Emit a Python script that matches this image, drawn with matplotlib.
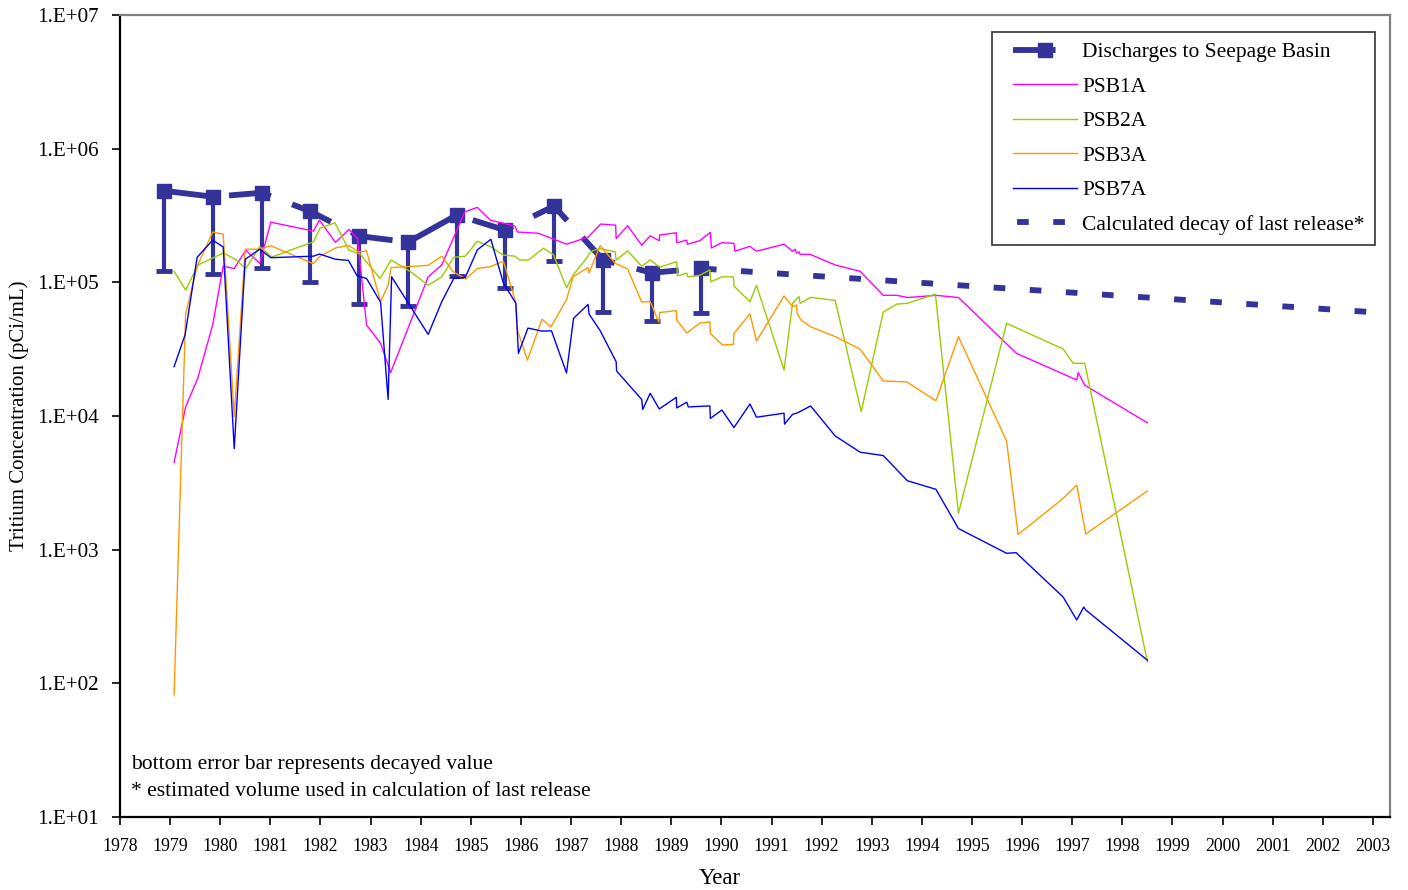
"""Tritium in seepage basin monitoring wells versus basin discharges."""

import math

import matplotlib

matplotlib.use("Agg")

import matplotlib.pyplot as plt  # noqa: E402
from matplotlib.legend_handler import HandlerLine2D  # noqa: E402
from matplotlib.lines import Line2D  # noqa: E402
from matplotlib.ticker import FixedLocator, FuncFormatter  # noqa: E402

# Discharges to the seepage basin (pCi/mL) and their decayed values
disc_year = [1978.88, 1979.86, 1980.83, 1981.79, 1982.77, 1983.75,
             1984.72, 1985.68, 1986.66, 1987.64, 1988.61, 1989.59]
disc_value = [484e3, 437e3, 468e3, 341e3, 222e3, 200e3,
              319e3, 246e3, 372e3, 147e3, 118e3, 127e3]
disc_decayed = [121e3, 115e3, 129e3, 101e3, 69e3, 66.5e3,
                111e3, 91e3, 144e3, 60e3, 51.5e3, 58.6e3]

# Decay of the last release, start and end of the projection
decay_year = [1989.59, 2003.25]
decay_value = [127e3, 59e3]

psb1a_year = [1979.08, 1979.31, 1979.55, 1979.85, 1980.06, 1980.28, 1980.51, 1980.79,
              1981.01, 1981.86, 1981.98, 1982.30, 1982.57, 1982.74, 1982.92, 1983.20,
              1983.40, 1984.15, 1984.42, 1984.88, 1985.13, 1985.39, 1985.88, 1985.93,
              1986.35, 1986.91, 1987.34, 1987.59, 1987.89, 1987.90, 1988.13, 1988.41,
              1988.58, 1988.76, 1988.77, 1989.10, 1989.11, 1989.31, 1989.32, 1989.57,
              1989.78, 1989.80, 1990.01, 1990.25, 1990.27, 1990.57, 1990.70, 1991.25,
              1991.42, 1991.47, 1991.50, 1991.55, 1991.57, 1991.77, 1992.27, 1992.77,
              1993.23, 1993.50, 1993.72, 1994.28, 1994.73, 1995.89, 1997.09, 1997.12,
              1997.25, 1998.50]
psb1a_value = [4.5e3, 11.7e3, 19.1e3, 48e3, 132e3, 127e3, 174e3, 139e3,
               282e3, 242e3, 292e3, 199e3, 249e3, 213e3, 48e3, 35e3,
               21.1e3, 110e3, 135e3, 337e3, 364e3, 292e3, 264e3, 238e3,
               233e3, 193e3, 218e3, 273e3, 268e3, 213e3, 265e3, 190e3,
               223e3, 205e3, 226e3, 235e3, 198e3, 207e3, 193e3, 205e3,
               237e3, 181e3, 198e3, 196e3, 171e3, 186e3, 171e3, 193e3,
               171e3, 177e3, 166e3, 169e3, 162e3, 162e3, 135e3, 121e3,
               80e3, 80e3, 77e3, 80e3, 77e3, 29.4e3, 18.6e3, 21.1e3,
               17.0e3, 8.9e3]

psb2a_year = [1979.08, 1979.31, 1979.56, 1980.06, 1980.30, 1980.51, 1980.79, 1981.03,
              1981.86, 1981.99, 1982.29, 1982.57, 1982.79, 1983.19, 1983.41, 1983.80,
              1984.15, 1984.42, 1984.66, 1984.89, 1985.13, 1985.39, 1985.65, 1985.88,
              1985.98, 1986.15, 1986.45, 1986.65, 1986.91, 1987.04, 1987.33, 1987.36,
              1987.44, 1987.58, 1987.88, 1987.90, 1988.13, 1988.41, 1988.58, 1988.77,
              1989.11, 1989.12, 1989.31, 1989.33, 1989.57, 1989.77, 1989.79, 1990.01,
              1990.24, 1990.25, 1990.57, 1990.70, 1991.25, 1991.42, 1991.55, 1991.57,
              1991.78, 1992.27, 1992.79, 1993.23, 1993.50, 1993.71, 1994.27, 1994.73,
              1995.69, 1996.82, 1997.02, 1997.25, 1998.50]
psb2a_value = [121e3, 87.6e3, 135e3, 166e3, 149e3, 127e3, 185e3, 155e3,
               201e3, 254e3, 279e3, 174e3, 163e3, 107e3, 147e3, 120e3,
               95e3, 110e3, 154e3, 157e3, 203e3, 185e3, 160e3, 157e3,
               147e3, 147e3, 180e3, 161e3, 91e3, 113e3, 155e3, 165e3,
               173e3, 179e3, 169e3, 147e3, 172e3, 132e3, 147e3, 130e3,
               143e3, 112e3, 117e3, 110e3, 113e3, 124e3, 101e3, 110e3,
               110e3, 94e3, 71.6e3, 95e3, 22.1e3, 69.7e3, 78.3e3, 69.7e3,
               77.2e3, 73.3e3, 10.8e3, 60e3, 68.8e3, 69.7e3, 81.7e3, 1.87e3,
               49.4e3, 31.7e3, 24.8e3, 24.8e3, 145]

psb3a_year = [1979.08, 1979.31, 1979.54, 1979.85, 1980.06, 1980.28, 1980.50, 1980.79,
              1981.01, 1981.86, 1981.98, 1982.30, 1982.56, 1982.76, 1982.92, 1983.20,
              1983.35, 1983.41, 1984.15, 1984.42, 1984.65, 1984.90, 1985.13, 1985.39,
              1985.65, 1985.89, 1985.93, 1986.13, 1986.42, 1986.60, 1986.91, 1987.04,
              1987.34, 1987.36, 1987.58, 1987.88, 1988.13, 1988.41, 1988.58, 1988.75,
              1988.77, 1989.10, 1989.11, 1989.31, 1989.57, 1989.77, 1989.78, 1990.02,
              1990.24, 1990.25, 1990.57, 1990.70, 1991.25, 1991.42, 1991.50, 1991.51,
              1991.59, 1991.78, 1992.27, 1992.77, 1993.23, 1993.70, 1994.28, 1994.73,
              1995.69, 1995.92, 1996.82, 1997.09, 1997.27, 1998.50]
psb3a_value = [82, 57.9e3, 132e3, 238e3, 229e3, 9.9e3, 177e3, 177e3,
               188e3, 138e3, 156e3, 181e3, 189e3, 169e3, 172e3, 71.6e3,
               95.4e3, 129e3, 134e3, 157e3, 120e3, 106e3, 127e3, 131e3,
               144e3, 72.5e3, 44e3, 26.2e3, 52.9e3, 46.5e3, 74.1e3, 110e3,
               129e3, 118e3, 188e3, 139e3, 126e3, 71.2e3, 71.8e3, 50.5e3,
               59.5e3, 61.5e3, 52.2e3, 41.8e3, 49.6e3, 50.7e3, 41.5e3, 34e3,
               34.4e3, 41.4e3, 58.2e3, 36.4e3, 79e3, 65.9e3, 67.6e3, 58.6e3,
               52.2e3, 46.5e3, 39.3e3, 31.6e3, 18.3e3, 18.0e3, 13.0e3, 39.2e3,
               6.5e3, 1.30e3, 2.42e3, 3.04e3, 1.31e3, 2.75e3]

psb7a_year = [1979.08, 1979.30, 1979.54, 1979.85, 1980.06, 1980.28, 1980.50, 1980.79,
              1981.01, 1981.86, 1981.98, 1982.30, 1982.56, 1982.73, 1982.92, 1983.20,
              1983.35, 1983.42, 1984.15, 1984.42, 1984.66, 1984.89, 1985.13, 1985.40,
              1985.65, 1985.90, 1985.95, 1986.14, 1986.42, 1986.61, 1986.91, 1987.05,
              1987.34, 1987.36, 1987.58, 1987.90, 1987.91, 1988.41, 1988.43, 1988.58,
              1988.76, 1989.10, 1989.11, 1989.31, 1989.34, 1989.55, 1989.77, 1989.78,
              1990.01, 1990.25, 1990.57, 1990.70, 1991.25, 1991.26, 1991.42, 1991.50,
              1991.57, 1991.78, 1992.27, 1992.77, 1993.23, 1993.71, 1994.28, 1994.73,
              1995.69, 1995.88, 1996.82, 1997.09, 1997.23, 1997.27, 1998.50]
psb7a_value = [23.4e3, 40.6e3, 154e3, 207e3, 184e3, 5.7e3, 149e3, 177e3,
               153e3, 157e3, 163e3, 149e3, 146e3, 112e3, 107e3, 71e3,
               13.3e3, 110e3, 40.8e3, 71.6e3, 107e3, 109e3, 175e3, 210e3,
               98.8e3, 69.7e3, 29.4e3, 45.5e3, 43.2e3, 43.4e3, 21e3, 53.8e3,
               68.4e3, 57.9e3, 43.6e3, 25.5e3, 21.7e3, 13.3e3, 11.2e3, 14.8e3,
               11.3e3, 13.8e3, 11.5e3, 12.7e3, 11.7e3, 11.8e3, 11.9e3, 9.6e3,
               11.1e3, 8.2e3, 12.3e3, 9.8e3, 10.5e3, 8.7e3, 10.3e3, 10.5e3,
               10.8e3, 11.9e3, 7.1e3, 5.36e3, 5.06e3, 3.28e3, 2.83e3, 1.44e3,
               940, 950, 442, 298, 372, 354, 149]

year_ticks = list(range(1978, 2004))
decade_ticks = [1e1, 1e2, 1e3, 1e4, 1e5, 1e6, 1e7]

NAVY = "#333399"
WELLS = [
    ("PSB1A", psb1a_year, psb1a_value, "#FF00FF"),
    ("PSB2A", psb2a_year, psb2a_value, "#99CC00"),
    ("PSB3A", psb3a_year, psb3a_value, "#FF9900"),
    ("PSB7A", psb7a_year, psb7a_value, "#0000FF"),
]
TEXT_SIZE = 15.5

plt.rcParams["font.family"] = ["Liberation Serif", "DejaVu Serif"]


def excel_exponent(value, _pos):
    return f"1.E+{round(math.log10(value)):02d}"


figure = plt.figure(figsize=(14.08, 8.90), dpi=100)
axis = figure.add_axes([0.0852, 0.0820, 0.9020, 0.9011])

# Discharge line: thick long-dash with square markers, error bars down to decayed value
axis.vlines(disc_year, disc_decayed, disc_value, color=NAVY, linewidth=3.0, zorder=2)
axis.plot(disc_year, disc_decayed, linestyle="none", marker="_", markersize=11,
          markeredgewidth=3.5, color=NAVY, zorder=2)
(discharge_line,) = axis.plot(
    disc_year, disc_value,
    color=NAVY, linewidth=4.2, linestyle=(0, (7.3, 3.9)), dash_capstyle="butt",
    marker="s", markersize=10, markeredgecolor=NAVY, markerfacecolor=NAVY,
    label="Discharges to Seepage Basin", zorder=2,
)

well_lines = []
for name, years, values, color in WELLS:
    (line,) = axis.plot(years, values, color=color, linewidth=1.0, label=name, zorder=3)
    well_lines.append(line)

(decay_line,) = axis.plot(
    decay_year, decay_value,
    color=NAVY, linewidth=4.2, linestyle=(5.5, (2.0, 4.2)), dash_capstyle="butt",
    label="Calculated decay of last release*", zorder=2,
)

axis.set_yscale("log")
axis.set_ylim(10, 1e7)
axis.set_xlim(1978, 2003.34)
axis.yaxis.set_major_locator(FixedLocator(decade_ticks))
axis.yaxis.set_minor_locator(FixedLocator([]))
axis.yaxis.set_major_formatter(FuncFormatter(excel_exponent))
axis.xaxis.set_major_locator(FixedLocator(year_ticks))
axis.set_xticklabels([str(year) for year in year_ticks])

axis.tick_params(axis="x", direction="out", length=6, width=1.2, pad=9, labelsize=12.8)
axis.tick_params(axis="y", direction="out", length=6, width=1.2, pad=9, labelsize=15.2)
for side in ("left", "bottom"):
    axis.spines[side].set_linewidth(1.6)
    axis.spines[side].set_color("black")
for side in ("top", "right"):
    axis.spines[side].set_linewidth(1.6)
    axis.spines[side].set_color("#808080")

axis.set_xlabel("Year", fontsize=16.5)
axis.xaxis.set_label_coords(0.4724, -0.0640)
axis.set_ylabel("Tritium Concentration (pCi/mL)", fontsize=15)
axis.yaxis.set_label_coords(-0.0720, 0.5)

axis.text(0.009, 0.066, "bottom error bar represents decayed value",
          transform=axis.transAxes, fontsize=TEXT_SIZE, va="center", ha="left")
axis.text(0.009, 0.032, "* estimated volume used in calculation of last release",
          transform=axis.transAxes, fontsize=TEXT_SIZE, va="center", ha="left")

legend = axis.legend(
    handles=[discharge_line, *well_lines, decay_line],
    handler_map={Line2D: HandlerLine2D(xpad=0.5)},
    loc="upper right", bbox_to_anchor=(0.9882, 0.9788), borderaxespad=0.0,
    fontsize=TEXT_SIZE, frameon=True, fancybox=False, edgecolor="black",
    handlelength=3.5, handletextpad=0.23, labelspacing=0.67, borderpad=0.47,
    numpoints=1,
)
legend.get_frame().set_linewidth(1.2)

figure.savefig("out.png", dpi=100)
plt.close(figure)
